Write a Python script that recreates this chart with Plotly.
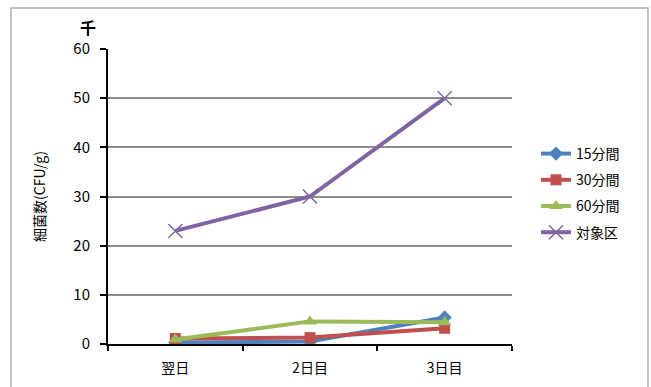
import plotly.graph_objects as go

# Bacterial counts (thousand CFU/g) by day after treatment
days = ["翌日", "2日目", "3日目"]
series_names = ["15分間", "30分間", "60分間", "対象区"]
vals_15 = [0.3, 0.5, 5.4]
vals_30 = [1.1, 1.3, 3.2]
vals_60 = [0.9, 4.6, 4.4]
vals_ctrl = [23, 30, 50]
y_ticks = [0, 10, 20, 30, 40, 50, 60]

colors = ["#4F81BD", "#C0504D", "#9BBB59", "#8064A2"]
symbols = ["diamond", "square", "triangle-up", "x-thin-open"]
sizes = [11, 11, 12, 14]
all_vals = [vals_15, vals_30, vals_60, vals_ctrl]

FONT = "Noto Sans CJK JP, Noto Sans, sans-serif"

fig = go.Figure()
for i, (name, vals, c, s, sz) in enumerate(zip(series_names, all_vals, colors, symbols, sizes)):
    fig.add_trace(go.Scatter(
        x=days, y=vals, name=name, mode="lines+markers", legendgroup=f"g{i}",
        line=dict(color=c, width=4),
        marker=dict(symbol=s, size=sz, color=c,
                    line=dict(color=c, width=1.5 if s == "x-thin-open" else 0)),
    ))

W, H = 651, 387
L, R, T, B = 108, 139, 49, 43
pw, ph = W - L - R, H - T - B

def px(x):
    return (x - L) / pw

def py(y):
    return (H - B - y) / ph

fig.update_layout(
    width=W, height=H,
    margin=dict(l=L, r=R, t=T, b=B, autoexpand=False),
    paper_bgcolor="white", plot_bgcolor="white",
    font=dict(family=FONT, size=14, color="#000000"),
    showlegend=True,
    legend=dict(x=px(536), y=py(138), xanchor="left", yanchor="top",
                font=dict(size=14), tracegroupgap=5, itemwidth=30,
                bgcolor="rgba(0,0,0,0)"),
    xaxis=dict(
        type="category", showgrid=False, showline=True, linecolor="#000000",
        linewidth=2, ticks="outside", tickson="boundaries", ticklen=5,
        tickcolor="#000000", tickwidth=2, tickfont=dict(size=14),
        ticklabelstandoff=10, range=[-0.5, 2.5], automargin=False,
    ),
    yaxis=dict(
        range=[0, 60], tickvals=y_ticks, showgrid=True, gridcolor="#8C8C8C",
        gridwidth=2, showline=True, linecolor="#000000", linewidth=2,
        ticks="outside", ticklen=6, tickcolor="#000000", tickwidth=2,
        zeroline=True, zerolinecolor="#000000", zerolinewidth=2,
        tickfont=dict(size=15), ticklabelstandoff=7, automargin=False,
        title=dict(text="細菌数(CFU/g)", font=dict(size=14), standoff=24),
    ),
    shapes=[dict(type="rect", xref="paper", yref="paper",
                 x0=px(11), x1=px(648), y0=py(392), y1=py(8),
                 line=dict(color="#B0B0B0", width=1.5), layer="below")],
    annotations=[dict(text="<b>千</b>", xref="paper", yref="paper",
                      x=px(88), y=py(27), xanchor="center", yanchor="middle",
                      showarrow=False, font=dict(size=16))],
)

fig.write_html("out.html")
